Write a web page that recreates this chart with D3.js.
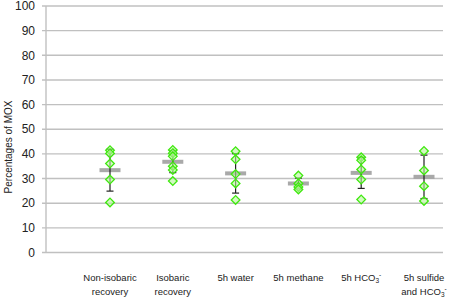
<!DOCTYPE html>
<html lang="en">
<head>
<meta charset="UTF-8">
<style>
  body { margin: 0; background: #fff; }
  svg { font-family: "Liberation Sans", Arial, sans-serif; }
  .grid line { stroke: #c0c0c0; stroke-width: 1.4px; }
  .tick-label { font-size: 12px; fill: #222; text-anchor: end; }
  .cat-label { font-size: 9.5px; fill: #222; text-anchor: middle; }
</style>
<script src="https://cdn.jsdelivr.net/npm/d3@7"></script>
</head>
<body>
<div id="chart"></div>
<script>
// categories (two lines each, last with HCO3- formatting)
const categories = ["Non-isobaric recovery", "Isobaric recovery", "5h water", "5h methane", "5h HCO3-", "5h sulfide and HCO3-"]
const catLines = [["Non-isobaric", "recovery"], ["Isobaric", "recovery"], ["5h water"], ["5h methane"], ["5h HCO3"], ["5h sulfide", "and HCO3"]]

// individual measurements (green diamonds)
const points = [
  [41.5, 40.2, 36.1, 29.6, 20.3],
  [41.6, 40.3, 39.0, 35.0, 33.5, 29.0],
  [41.1, 37.8, 31.8, 28.0, 21.3],
  [31.2, 28.0, 26.6, 25.6],
  [38.6, 37.4, 33.7, 29.6, 21.5],
  [41.2, 33.3, 26.9, 20.9]
]
// mean and standard deviation
const means = [33.4, 36.8, 32.1, 28.0, 32.3, 30.7]
const sds = [8.5, 4.4, 8.0, 2.2, 6.3, 8.8]

const yTicks = d3.range(0, 101, 10)

const width = 454, height = 297
const margin = { top: 6, right: 11, bottom: 44.5, left: 46 }
const innerW = width - margin.left - margin.right
const innerH = height - margin.top - margin.bottom

const svg = d3.select("#chart").append("svg")
  .attr("width", width).attr("height", height)

const g = svg.append("g").attr("transform", `translate(${margin.left},${margin.top})`)

const y = d3.scaleLinear().domain([0, 100]).range([innerH, 0])
const x = d3.scalePoint().domain(categories).range([64, 378])

// gridlines
g.append("g").attr("class", "grid")
  .selectAll("line").data(yTicks).join("line")
  .attr("x1", -4).attr("x2", innerW)
  .attr("y1", d => y(d)).attr("y2", d => y(d))

// left axis line
g.append("line")
  .attr("x1", 0).attr("x2", 0).attr("y1", 0).attr("y2", innerH)
  .attr("stroke", "#c0c0c0").attr("stroke-width", 1.4)

g.selectAll(".tick-label").data(yTicks).join("text")
  .attr("class", "tick-label")
  .attr("x", -11).attr("y", d => y(d)).attr("dy", "0.35em")
  .text(d => d)

svg.append("text")
  .attr("transform", "translate(12,147) rotate(-90)")
  .attr("text-anchor", "middle")
  .attr("font-size", "10px").attr("fill", "#222")
  .text("Percentages of MOX")

// category labels
categories.forEach((c, i) => {
  catLines[i].forEach((ln, j) => {
    const t = g.append("text").attr("class", "cat-label")
      .attr("x", x(c)).attr("y", innerH + 28 + j * 14.5)
    if (ln.endsWith("HCO3")) {
      t.append("tspan").text(ln.slice(0, -1))
      t.append("tspan").attr("font-size", "6.5px").attr("dy", "2").text("3")
      t.append("tspan").attr("font-size", "6.5px").attr("dy", "-6").text("-")
    } else {
      t.text(ln)
    }
  })
})

// series groups
const groups = g.selectAll(".cat").data(categories).join("g")
  .attr("class", "cat")
  .attr("transform", d => `translate(${x(d)},0)`)

// mean bars
groups.append("rect")
  .attr("x", -10.5).attr("width", 21)
  .attr("y", (d, i) => y(means[i]) - 2).attr("height", 4)
  .attr("fill", "#a0a0a0").attr("opacity", 0.9)

// error bars
groups.append("line")
  .attr("x1", 0).attr("x2", 0)
  .attr("y1", (d, i) => y(means[i] + sds[i]))
  .attr("y2", (d, i) => y(means[i] - sds[i]))
  .attr("stroke", "#222").attr("stroke-width", 1.2)
groups.each(function(d, i) {
  const gg = d3.select(this)
  ;[means[i] + sds[i], means[i] - sds[i]].forEach(v => {
    gg.append("line")
      .attr("x1", -3.5).attr("x2", 3.5)
      .attr("y1", y(v)).attr("y2", y(v))
      .attr("stroke", "#222").attr("stroke-width", 1.2)
  })
})

// diamonds
const diamond = d3.symbol().type(d3.symbolDiamond2).size(48)
groups.each(function(d, i) {
  d3.select(this).selectAll("path.pt").data(points[i]).join("path")
    .attr("class", "pt")
    .attr("d", diamond)
    .attr("transform", v => `translate(0,${y(v)})`)
    .attr("fill", "#b5f59a").attr("fill-opacity", 0.6)
    .attr("stroke", "#3fe80f").attr("stroke-width", 1.3)
})
</script>
</body>
</html>
